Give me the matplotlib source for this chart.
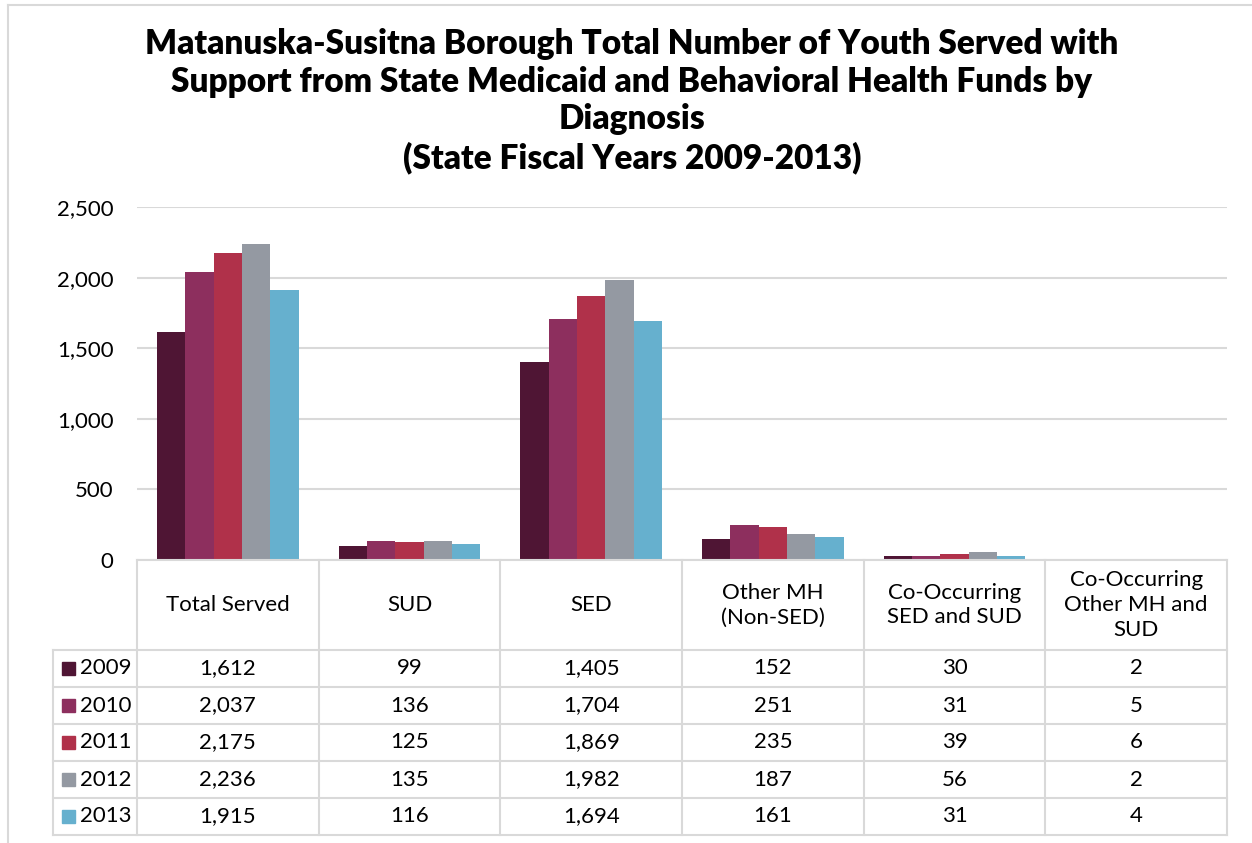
import numpy as np
import matplotlib.pyplot as plt
from matplotlib.lines import Line2D
from matplotlib.patches import Rectangle

# chart data
categories = ['Total Served', 'SUD', 'SED', 'Other MH\n(Non-SED)',
              'Co-Occurring\nSED and SUD', 'Co-Occurring\nOther MH and\nSUD']
years = ['2009', '2010', '2011', '2012', '2013']
v2009 = [1612, 99, 1405, 152, 30, 2]
v2010 = [2037, 136, 1704, 251, 31, 5]
v2011 = [2175, 125, 1869, 235, 39, 6]
v2012 = [2236, 135, 1982, 187, 56, 2]
v2013 = [1915, 116, 1694, 161, 31, 4]
series = [v2009, v2010, v2011, v2012, v2013]
colors = ['#4F1534', '#8D2F5E', '#B0314A', '#9499A2', '#66B0CE']
yticks = [0, 500, 1000, 1500, 2000, 2500]

W, H = 1252, 843
fig = plt.figure(figsize=(W / 100, H / 100), dpi=100)
plt.rcParams['font.family'] = ['Lato', 'DejaVu Sans']
grid_col = '#D9D9D9'
fs = 16

# outer frame (only top and left edges are visible in the crop)
fig.add_artist(Line2D([8 / W, 8 / W], [0, 1 - 5 / H], transform=fig.transFigure, color=grid_col, lw=1.5))
fig.add_artist(Line2D([8 / W, 1], [1 - 5 / H, 1 - 5 / H], transform=fig.transFigure, color=grid_col, lw=1.5))

fig.text(632 / W, 1 - 28 / H,
         'Matanuska-Susitna Borough Total Number of Youth Served with\n'
         'Support from State Medicaid and Behavioral Health Funds by\n'
         'Diagnosis\n(State Fiscal Years 2009-2013)',
         ha='center', va='top', fontsize=24, fontweight='heavy', linespacing=1.22)

# main bar axes
x0, x1 = 137, 1227
ytop, ybot = 207, 560
ax = fig.add_axes([x0 / W, 1 - ybot / H, (x1 - x0) / W, (ybot - ytop) / H])
n = len(categories)
x = np.arange(n)
bw = 0.156
for j, (vals, c) in enumerate(zip(series, colors)):
    ax.bar(x + (j - 2) * bw, vals, bw, color=c, label=years[j], zorder=3)
ax.set_xlim(-0.5, n - 0.5)
ax.set_ylim(0, 2500)
ax.set_yticks(yticks)
ax.set_yticklabels(['{:,}'.format(t) for t in yticks], fontsize=fs)
ax.tick_params(axis='y', length=0, pad=17)
ax.set_xticks([])
ax.yaxis.grid(True, color=grid_col, lw=1.5, zorder=0)
for s in ax.spines.values():
    s.set_visible(False)

# data table below
tl = 53
hdr = 90
rowh = 37
tb = ybot + hdr + rowh * len(years)
tax = fig.add_axes([tl / W, 1 - tb / H, (x1 - tl) / W, (tb - ybot) / H])
colw = (x1 - x0) / n
lw_frac = (x0 - tl) / colw
tax.set_xlim(-0.5 - lw_frac, n - 0.5)
hdr_u = hdr / rowh
nrows = len(years)
tax.set_ylim(nrows + hdr_u, 0)
tax.axis('off')
lc = grid_col
lwid = 1.5
# horizontal lines
tax.plot([-0.5, n - 0.5], [0, 0], color=lc, lw=lwid, clip_on=False)
for r in range(nrows + 1):
    yy = hdr_u + r
    tax.plot([-0.5 - lw_frac, n - 0.5], [yy, yy], color=lc, lw=lwid, clip_on=False)
# vertical lines
for i in range(n + 1):
    tax.plot([i - 0.5, i - 0.5], [0, nrows + hdr_u], color=lc, lw=lwid, clip_on=False)
tax.plot([-0.5 - lw_frac] * 2, [hdr_u, nrows + hdr_u], color=lc, lw=lwid, clip_on=False)

for i, cat in enumerate(categories):
    tax.text(i, hdr_u / 2, cat, ha='center', va='center', fontsize=fs, linespacing=1.3)
sq_w = 13 / colw
for r, (yr, vals, c) in enumerate(zip(years, series, colors)):
    yc = hdr_u + r + 0.5
    tax.add_patch(Rectangle((-0.5 - lw_frac + 9 / colw, yc - 0.175), sq_w, 0.35,
                            color=c, clip_on=False))
    tax.text(-0.5 - lw_frac + 27 / colw, yc, yr, ha='left', va='center', fontsize=fs)
    for i, v in enumerate(vals):
        tax.text(i, yc, '{:,}'.format(v), ha='center', va='center', fontsize=fs)

fig.savefig('out.png', dpi=100)
